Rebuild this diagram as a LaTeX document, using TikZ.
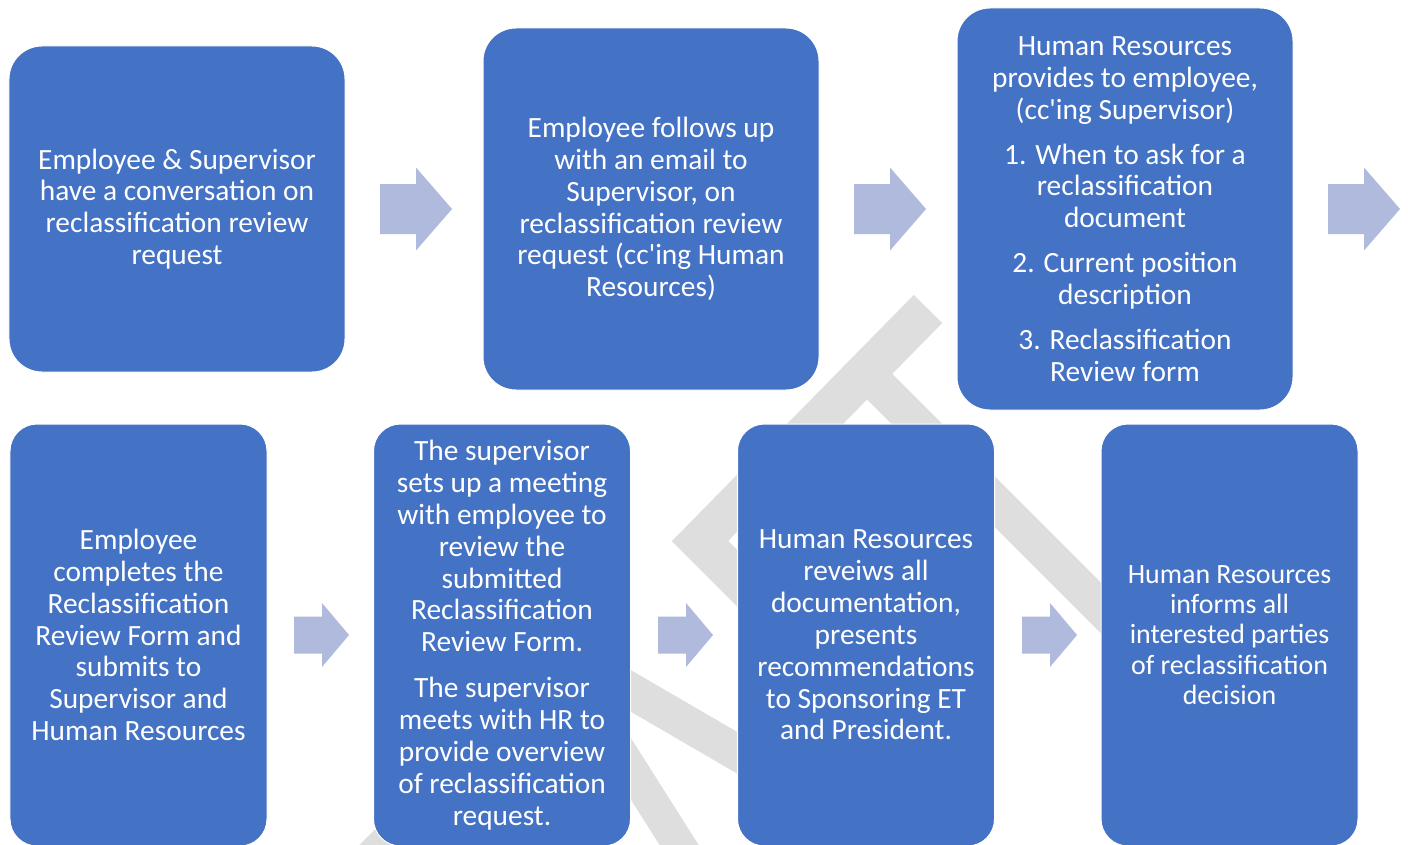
\documentclass[tikz,border=0pt]{standalone}
\usepackage{fontspec}
\setmainfont{Carlito}[Ligatures=TeXOff]
\definecolor{boxblue}{HTML}{4472C4}
\definecolor{arrowfill}{HTML}{AFBADC}
\definecolor{wmgray}{HTML}{DEDEDE}
\newcommand\blkarrow[6]{%
  \fill[arrowfill] ({#1-#3/2},{#2-#4/2}) -- ({#1+#3/2-#6},{#2-#4/2}) -- ({#1+#3/2-#6},{#2-#5/2})
    -- ({#1+#3/2},#2) -- ({#1+#3/2-#6},{#2+#5/2}) -- ({#1+#3/2-#6},{#2+#4/2}) -- ({#1-#3/2},{#2+#4/2}) -- cycle;}
\begin{document}
\begin{tikzpicture}[x=1bp,y=-1bp,
  wm/.style={draw=wmgray, line cap=butt, line join=miter},
  box/.style={fill=boxblue, draw=white, line width=1bp, text=white, align=center,
    inner sep=0pt, font=\fontsize{29.5}{32}\selectfont},
  topbox/.style={box, rounded corners=33bp, minimum width=336bp},
  botbox/.style={box, rounded corners=27bp, minimum width=257bp, minimum height=422bp}]
\useasboundingbox (0,0) rectangle (1408,844);
\clip (0,0) rectangle (1408,844);
\fill[white] (0,0) rectangle (1408,844);
% watermark
\draw[wm, line width=40bp] (928,309) -- (700,541) -- (960,801);
\draw[wm, line width=36bp] (868,375) -- (1140,647);
\draw[wm, line width=36bp] (600,673) -- (760,766);
\draw[wm, line width=33bp] (600,720) -- (700,878);
\draw[wm, line width=35bp] (355,874) -- (440,789);
% boxes
\node[topbox, minimum height=326bp] (b1) at (177,209)
  {Employee \& Supervisor\\have a conversation on\\reclassification review\\request};
\node[topbox, minimum height=362bp] (b2) at (651,209)
  {Employee follows up\\with an email to\\Supervisor, on\\reclassification review\\request (cc'ing Human\\Resources)};
\node[topbox, minimum height=402bp] (b3) at (1125,209)
  {Human Resources\\provides to employee,\\(cc'ing Supervisor)\\[13bp]1. When to ask for a\\reclassification\\document\\[13bp]2. Current position\\description\\[13bp]3. Reclassification\\Review form};
\node[botbox] (b4) at (138.5,635)
  {Employee\\completes the\\Reclassification\\Review Form and\\submits to\\Supervisor and\\Human Resources};
\node[botbox] (b5) at (502,635)
  {The supervisor\\sets up a meeting\\with employee to\\review the\\submitted\\Reclassification\\Review Form.\\[14bp]The supervisor\\meets with HR to\\provide overview\\of reclassification\\request.};
\node[botbox] (b6) at (866,635)
  {Human Resources\\reveiws all\\documentation,\\presents\\recommendations\\to Sponsoring ET\\and President.};
\node[botbox, font=\fontsize{28}{30.5}\selectfont] (b7) at (1229.5,635)
  {Human Resources\\informs all\\interested parties\\of reclassification\\decision};
% block arrows
\blkarrow{416}{209}{72}{50}{83}{36}
\blkarrow{890}{209}{72}{50}{83}{36}
\blkarrow{1364}{209}{72}{50}{83}{36}
\blkarrow{321.5}{635}{55}{37}{64}{27}
\blkarrow{685.5}{635}{55}{37}{64}{27}
\blkarrow{1049.5}{635}{55}{37}{64}{27}
\end{tikzpicture}
\end{document}
